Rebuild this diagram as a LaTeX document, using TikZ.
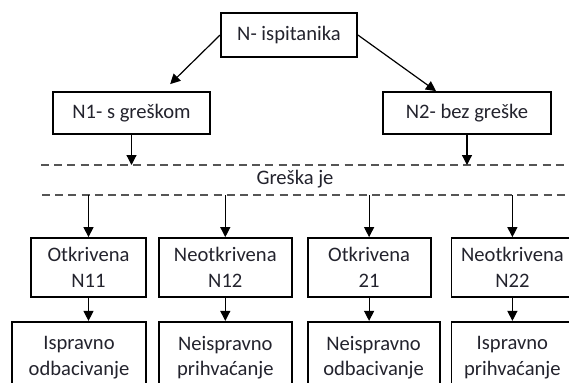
\documentclass[tikz,border=0pt]{standalone}
\usepackage{fontspec}
\setmainfont{Carlito}
\usepackage{tikz}
\usetikzlibrary{arrows.meta, positioning}
\definecolor{inkgray}{RGB}{35, 35, 45}
\definecolor{dashgray}{RGB}{85, 85, 85}

\begin{document}
\begin{tikzpicture}[x=0.5pt, y=-0.5pt,
        box/.style={rectangle, draw=black, line width=0.9pt, inner sep=0pt, align=center, text=inkgray, font=\fontsize{10.3}{12.8}\selectfont},
        group/.style={box, minimum height=21pt},
        outcome/.style={box, minimum height=29.5pt},
        decision/.style={box, minimum height=36pt},
        sepline/.style={dashed, dash pattern=on 4pt off 2.6pt, line width=0.7pt, color=dashgray},
        arrow/.style={-{Triangle[length=5pt, width=5pt]}, line width=0.6pt, color=black}
    ]
        \useasboundingbox (0,0) rectangle (569,382);

        \node[box, minimum width=68pt, minimum height=22pt] (total) at (289,35) {N- ispitanika};
        \node[group, minimum width=78.5pt] (witherr) at (131.5,113) {N1- s greškom};
        \node[group, minimum width=84pt] (noerr) at (467,113) {N2- bez greške};

        \coordinate (d1w) at (41,165);
        \coordinate (d1e) at (569,165);
        \coordinate (d2w) at (42,195);
        \coordinate (d2e) at (569,195);
        \draw[sepline] (d1w) -- (d1e);
        \draw[sepline] (d2w) -- (d2e);
        \node[text=inkgray, font=\fontsize{10.3}{12.8}\selectfont] (errlabel) at (295,179) {Greška je};

        \node[outcome, minimum width=57.5pt] (found1) at (88.5,267.5) {Otkrivena\\N11};
        \node[outcome, minimum width=66.5pt, right=5.5pt of found1] (missed1) {Neotkrivena\\N12};
        \node[outcome, minimum width=61.5pt, right=7pt of missed1] (found2) {Otkrivena\\21};
        \node[outcome, minimum width=61pt, right=9.5pt of found2] (missed2) {Neotkrivena\\N22};

        \node[decision, minimum width=67pt, below=11.5pt of found1, xshift=-4.75pt] (rej1) {Ispravno\\odbacivanje};
        \node[decision, minimum width=66.5pt, below=11.5pt of missed1] (acc1) {Neispravno\\prihvaćanje};
        \node[decision, minimum width=66pt, below=11.5pt of found2, xshift=2.25pt] (rej2) {Neispravno\\odbacivanje};
        \node[decision, minimum width=61pt, below=11.5pt of missed2] (acc2) {Ispravno\\prihvaćanje};

        \draw[arrow, shorten >=5pt] (total.west) -- ([xshift=15.75pt]witherr.north);
        \draw[arrow] (total.east) -- ([xshift=-15.5pt]noerr.north);
        \draw[arrow] (witherr.south) -- (witherr.south |- d1w);
        \draw[arrow] (noerr.south) -- (noerr.south |- d1w);

        \foreach \n/\m in {found1/rej1, missed1/acc1, found2/rej2, missed2/acc2} {
            \draw[arrow] (\n.north |- d2w) -- (\n.north);
            \draw[arrow] (\n.south) -- (\n.south |- \m.north);
        }
    \end{tikzpicture}
\end{document}
